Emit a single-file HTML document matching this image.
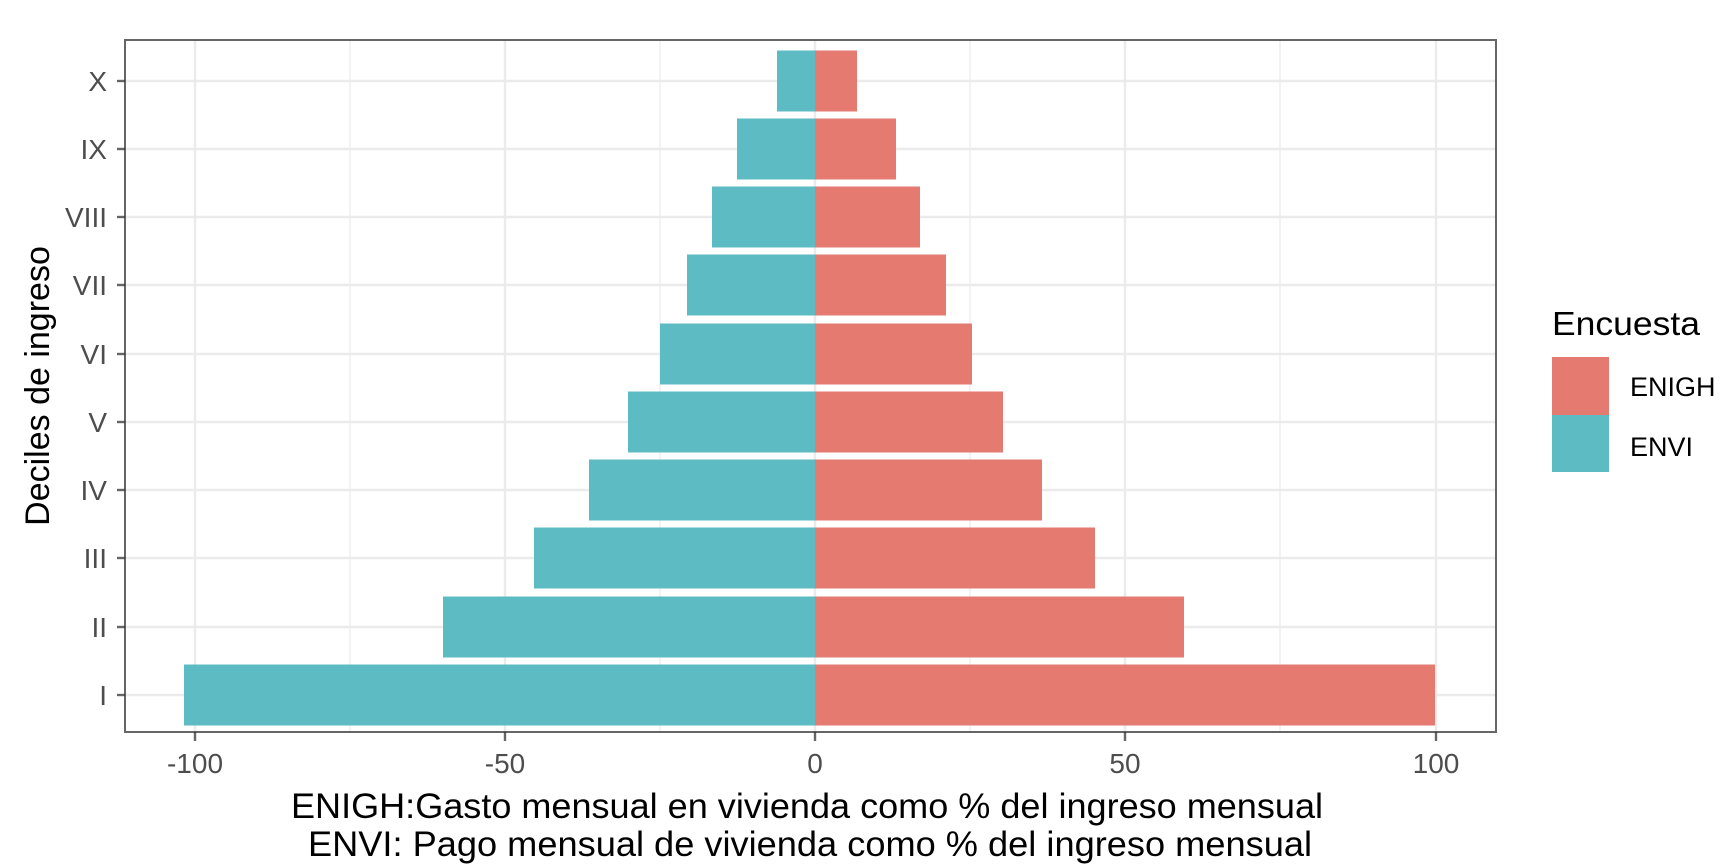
<!DOCTYPE html>
<html><head><meta charset="utf-8"><style>
html,body{margin:0;padding:0;background:#fff;}
svg{display:block;font-family:"Liberation Sans",Arial,sans-serif;}
</style></head><body>
<svg width="1734" height="866" viewBox="0 0 1734 866" xmlns="http://www.w3.org/2000/svg">
<rect width="1734" height="866" fill="#fff"/>
<!-- panel 125..1496, 40..732 ; x0=815, 6.205px/unit -->
<g stroke="#ebebeb" stroke-width="1.2">
<line x1="350" y1="40" x2="350" y2="732"/>
<line x1="660" y1="40" x2="660" y2="732"/>
<line x1="970" y1="40" x2="970" y2="732"/>
<line x1="1280" y1="40" x2="1280" y2="732"/>
</g>
<g stroke="#ebebeb" stroke-width="2.4">
<line x1="195" y1="40" x2="195" y2="732"/>
<line x1="505" y1="40" x2="505" y2="732"/>
<line x1="815" y1="40" x2="815" y2="732"/>
<line x1="1125" y1="40" x2="1125" y2="732"/>
<line x1="1436" y1="40" x2="1436" y2="732"/>
<line x1="125" y1="81" x2="1496" y2="81"/>
<line x1="125" y1="149" x2="1496" y2="149"/>
<line x1="125" y1="217" x2="1496" y2="217"/>
<line x1="125" y1="285" x2="1496" y2="285"/>
<line x1="125" y1="354" x2="1496" y2="354"/>
<line x1="125" y1="422" x2="1496" y2="422"/>
<line x1="125" y1="490" x2="1496" y2="490"/>
<line x1="125" y1="558" x2="1496" y2="558"/>
<line x1="125" y1="627" x2="1496" y2="627"/>
<line x1="125" y1="695" x2="1496" y2="695"/>
</g>
<!-- bars: height 61 -->
<g fill="#5dbcc3">
<rect x="777" y="50.5" width="38" height="61"/>
<rect x="737" y="118.5" width="78" height="61"/>
<rect x="712" y="186.5" width="103" height="61"/>
<rect x="687" y="254.5" width="128" height="61"/>
<rect x="660" y="323.5" width="155" height="61"/>
<rect x="628" y="391.5" width="187" height="61"/>
<rect x="589" y="459.5" width="226" height="61"/>
<rect x="534" y="527.5" width="281" height="61"/>
<rect x="443" y="596.5" width="372" height="61"/>
<rect x="184" y="664.5" width="631" height="61"/>
</g>
<g fill="#e57b70">
<rect x="815" y="50.5" width="42" height="61"/>
<rect x="815" y="118.5" width="81" height="61"/>
<rect x="815" y="186.5" width="105" height="61"/>
<rect x="815" y="254.5" width="131" height="61"/>
<rect x="815" y="323.5" width="157" height="61"/>
<rect x="815" y="391.5" width="188" height="61"/>
<rect x="815" y="459.5" width="227" height="61"/>
<rect x="815" y="527.5" width="280" height="61"/>
<rect x="815" y="596.5" width="369" height="61"/>
<rect x="815" y="664.5" width="620" height="61"/>
</g>
<rect x="125" y="40" width="1371" height="692" fill="none" stroke="#333" stroke-opacity="0.75" stroke-width="2"/>
<!-- ticks -->
<g stroke="#333" stroke-opacity="0.75" stroke-width="2.4">
<line x1="117" y1="81" x2="125" y2="81"/><line x1="117" y1="149" x2="125" y2="149"/>
<line x1="117" y1="217" x2="125" y2="217"/><line x1="117" y1="285" x2="125" y2="285"/>
<line x1="117" y1="354" x2="125" y2="354"/><line x1="117" y1="422" x2="125" y2="422"/>
<line x1="117" y1="490" x2="125" y2="490"/><line x1="117" y1="558" x2="125" y2="558"/>
<line x1="117" y1="627" x2="125" y2="627"/><line x1="117" y1="695" x2="125" y2="695"/>
<line x1="195" y1="732" x2="195" y2="741"/><line x1="505" y1="732" x2="505" y2="741"/>
<line x1="815" y1="732" x2="815" y2="741"/><line x1="1125" y1="732" x2="1125" y2="741"/>
<line x1="1436" y1="732" x2="1436" y2="741"/>
</g>
<g fill="#4d4d4d" font-size="28" text-anchor="end">
<text x="107" y="91">X</text><text x="107" y="159">IX</text>
<text x="107" y="227">VIII</text><text x="107" y="295">VII</text>
<text x="107" y="364">VI</text><text x="107" y="432">V</text>
<text x="107" y="500">IV</text><text x="107" y="568">III</text>
<text x="107" y="637">II</text><text x="107" y="705">I</text>
</g>
<g fill="#4d4d4d" font-size="28" text-anchor="middle">
<text x="195" y="773">-100</text><text x="505" y="773">-50</text>
<text x="815" y="773">0</text><text x="1125" y="773">50</text>
<text x="1436" y="773">100</text>
</g>
<text transform="translate(49,386) rotate(-90)" text-anchor="middle" font-size="34" fill="#000">Deciles de ingreso</text>
<text x="807" y="818" text-anchor="middle" font-size="35" fill="#000" textLength="1032" lengthAdjust="spacingAndGlyphs">ENIGH:Gasto mensual en vivienda como % del ingreso mensual</text>
<text x="810" y="856" text-anchor="middle" font-size="35" fill="#000" textLength="1004" lengthAdjust="spacingAndGlyphs">ENVI: Pago mensual de vivienda como % del ingreso mensual</text>
<!-- legend -->
<text x="1552" y="335" font-size="33" fill="#000" textLength="148" lengthAdjust="spacingAndGlyphs">Encuesta</text>
<rect x="1552" y="357" width="57" height="58" fill="#e57b70"/>
<rect x="1552" y="415" width="57" height="57" fill="#5dbcc3"/>
<text x="1630" y="396" font-size="27" fill="#000">ENIGH</text>
<text x="1630" y="456" font-size="27" fill="#000">ENVI</text>
</svg>
</body></html>
